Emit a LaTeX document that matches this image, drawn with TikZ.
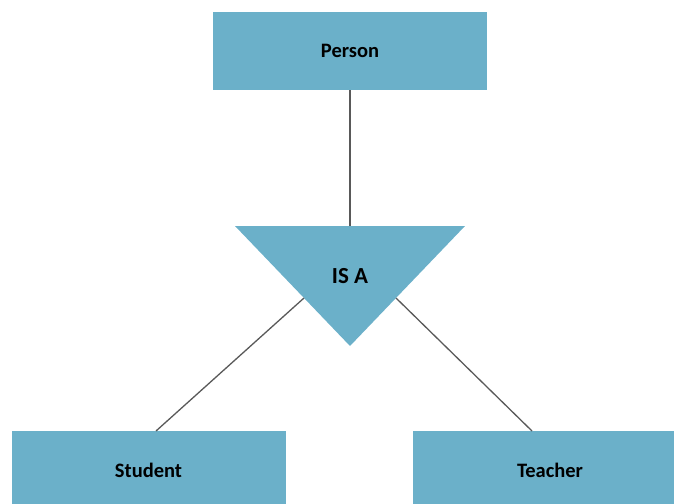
\documentclass[tikz,border=0pt]{standalone}
\usepackage{fontspec}
\setmainfont{Carlito}
\usetikzlibrary{calc}
\definecolor{isablue}{RGB}{107,176,201}
\definecolor{linegray}{RGB}{89,89,89}
\begin{document}
\begin{tikzpicture}[x=1pt,y=-1pt,
	entity/.style={rectangle,fill=isablue,minimum width=274pt,minimum height=78pt,
	inner sep=0pt,font=\fontsize{20.5}{24}\selectfont\bfseries},
	link/.style={draw=linegray,line width=1.3pt}]
\clip (0,0) rectangle (674,503);
\node[entity] (person) at (350,51) {Person};
\node[entity] (student) at (148.5,470) {Student};
\node[entity] (teacher) at (550,470) {Teacher};
% the IS A triangle
\coordinate (tl) at (235,226);
\coordinate (tr) at (465,226);
\coordinate (tb) at (350,346);
\fill[isablue] (tl) -- (tr) -- (tb) -- cycle;
\node[font=\fontsize{23}{27}\selectfont\bfseries] (isa) at (350,276) {IS A};
\coordinate (isatop) at (350,226);
\coordinate (isaleft) at ($(tl)!0.6!(tb)$);
\coordinate (isaright) at ($(tr)!0.6!(tb)$);
\coordinate (studenttop) at (156,431);
\coordinate (teachertop) at (532,431);
\draw[link] (person.south) -- (isatop);
\draw[link] (isaleft) -- (studenttop);
\draw[link] (isaright) -- (teachertop);
\end{tikzpicture}
\end{document}
